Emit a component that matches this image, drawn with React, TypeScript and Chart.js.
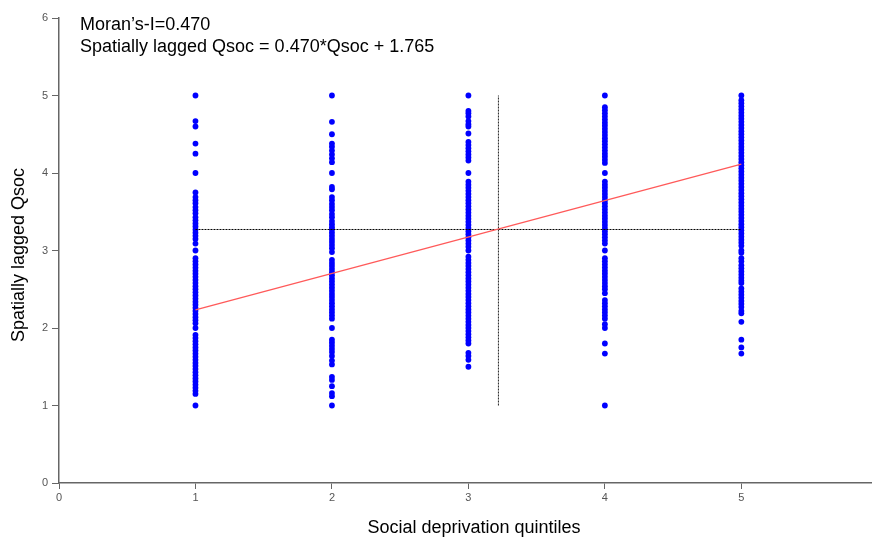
import React, { useEffect, useRef } from "react";
import { Chart, registerables } from "chart.js";

Chart.register(...registerables);

const quintiles = [1, 2, 3, 4, 5];

const q1 = [5.0, 4.67, 4.6, 4.38, 4.25, 4.0, 3.75, 3.69, 3.65, 3.61, 3.56, 3.52, 3.48, 3.43, 3.39, 3.35, 3.31, 3.27, 3.23, 3.19, 3.15, 3.09, 3.0, 2.9, 2.86, 2.82, 2.78, 2.74, 2.7, 2.66, 2.62, 2.58, 2.54, 2.5, 2.46, 2.42, 2.38, 2.34, 2.3, 2.26, 2.22, 2.18, 2.14, 2.1, 2.06, 2.0, 1.91, 1.87, 1.83, 1.79, 1.75, 1.71, 1.67, 1.63, 1.59, 1.55, 1.51, 1.47, 1.43, 1.39, 1.35, 1.31, 1.27, 1.23, 1.19, 1.15, 1.0];
const q2 = [5.0, 4.66, 4.5, 4.38, 4.34, 4.29, 4.24, 4.19, 4.14, 4.0, 3.82, 3.79, 3.69, 3.65, 3.6, 3.56, 3.52, 3.47, 3.43, 3.38, 3.34, 3.3, 3.27, 3.23, 3.19, 3.15, 3.11, 3.07, 3.03, 2.98, 2.88, 2.84, 2.8, 2.76, 2.72, 2.68, 2.64, 2.6, 2.56, 2.52, 2.48, 2.44, 2.4, 2.36, 2.32, 2.28, 2.24, 2.2, 2.16, 2.12, 2.0, 1.85, 1.81, 1.77, 1.73, 1.69, 1.64, 1.58, 1.53, 1.37, 1.33, 1.25, 1.16, 1.12, 1.0];
const q3 = [5.0, 4.8, 4.77, 4.73, 4.67, 4.63, 4.6, 4.51, 4.4, 4.36, 4.32, 4.28, 4.24, 4.2, 4.16, 4.0, 3.89, 3.85, 3.81, 3.77, 3.73, 3.69, 3.65, 3.61, 3.57, 3.53, 3.49, 3.45, 3.41, 3.37, 3.33, 3.29, 3.25, 3.21, 3.17, 3.13, 3.09, 3.05, 3.0, 2.92, 2.88, 2.84, 2.8, 2.76, 2.72, 2.68, 2.64, 2.6, 2.56, 2.52, 2.48, 2.44, 2.4, 2.36, 2.32, 2.28, 2.24, 2.2, 2.16, 2.12, 2.08, 2.04, 2.0, 1.96, 1.92, 1.88, 1.84, 1.8, 1.68, 1.64, 1.59, 1.5];
const q4 = [5.0, 4.85, 4.81, 4.77, 4.73, 4.69, 4.65, 4.61, 4.57, 4.53, 4.49, 4.45, 4.41, 4.37, 4.33, 4.29, 4.25, 4.21, 4.17, 4.13, 4.0, 3.89, 3.85, 3.81, 3.77, 3.73, 3.69, 3.65, 3.61, 3.57, 3.53, 3.49, 3.45, 3.41, 3.37, 3.33, 3.29, 3.25, 3.21, 3.17, 3.13, 3.09, 3.0, 2.9, 2.86, 2.82, 2.78, 2.74, 2.7, 2.66, 2.62, 2.58, 2.54, 2.5, 2.45, 2.36, 2.32, 2.28, 2.24, 2.2, 2.16, 2.12, 2.05, 2.0, 1.8, 1.67, 1.0];
const q5 = [5.0, 4.94, 4.9, 4.86, 4.82, 4.78, 4.74, 4.7, 4.66, 4.62, 4.58, 4.54, 4.5, 4.46, 4.42, 4.38, 4.34, 4.3, 4.26, 4.22, 4.18, 4.14, 4.1, 4.06, 4.02, 3.98, 3.94, 3.9, 3.86, 3.82, 3.78, 3.74, 3.7, 3.66, 3.62, 3.58, 3.54, 3.5, 3.46, 3.42, 3.38, 3.34, 3.3, 3.26, 3.22, 3.18, 3.14, 3.1, 3.06, 3.0, 2.97, 2.9, 2.86, 2.81, 2.77, 2.73, 2.69, 2.65, 2.61, 2.58, 2.51, 2.47, 2.43, 2.39, 2.35, 2.31, 2.27, 2.22, 2.19, 2.08, 1.85, 1.75, 1.67];
const seriesValues = [q1, q2, q3, q4, q5];

const slope = 0.47;
const intercept = 1.765;
const fitXs = [1, 5];
const meanX = 3.22;
const meanY = 3.271;
const meanSpanX = [1, 5];
const meanSpanY = [1, 5];

const yTicks = [0, 1, 2, 3, 4, 5, 6];
const xTicks = [0, 1, 2, 3, 4, 5];

const FONT = '"Liberation Sans", Arial, sans-serif';

const textPlugin = {
  id: "texts",
  afterDraw(chart: any) {
    const ctx = chart.ctx;
    ctx.save();
    ctx.fillStyle = "#000";
    ctx.font = "18px " + FONT;
    ctx.textAlign = "left";
    ctx.textBaseline = "alphabetic";
    ctx.fillText("Moran\u2019s-I=0.470", 80, 30);
    ctx.fillText("Spatially lagged Qsoc = 0.470*Qsoc + 1.765", 80, 52);
    ctx.textAlign = "center";
    ctx.fillText("Social deprivation quintiles", 474, 533);
    ctx.translate(24, 255);
    ctx.rotate(-Math.PI / 2);
    ctx.fillText("Spatially lagged Qsoc", 0, 0);
    ctx.restore();
  },
};

export default function App() {
  const ref = useRef<HTMLCanvasElement | null>(null);
  useEffect(() => {
    document.body.style.margin = "0";
    const points: { x: number; y: number }[] = [];
    quintiles.forEach((q, i) => {
      seriesValues[i].forEach((v) => points.push({ x: q, y: v }));
    });
    const fit = fitXs.map((x) => ({ x, y: slope * x + intercept }));
    const hLine = meanSpanX.map((x) => ({ x, y: meanY }));
    const vLine = meanSpanY.map((y) => ({ x: meanX, y }));
    const chart = new Chart(ref.current as HTMLCanvasElement, {
      type: "scatter",
      data: {
        datasets: [
          {
            data: fit,
            showLine: true,
            borderColor: "#ff5a5a",
            borderWidth: 1.3,
            pointRadius: 0,
            order: 0,
          } as any,
          {
            data: hLine,
            showLine: true,
            borderColor: "#000",
            borderWidth: 1,
            borderDash: [2, 1],
            pointRadius: 0,
            order: 1,
          },
          {
            data: vLine,
            showLine: true,
            borderColor: "#222",
            borderWidth: 1,
            borderDash: [2, 1],
            pointRadius: 0,
            order: 1,
          },
          {
            data: points,
            backgroundColor: "#0000ff",
            borderWidth: 0,
            pointRadius: 2.9,
            order: 2,
          },
        ],
      },
      options: {
        responsive: false,
        animation: false,
        devicePixelRatio: 1,
        layout: { padding: { top: 18, right: 0, left: 0, bottom: 0 } },
        plugins: { legend: { display: false }, tooltip: { enabled: false } },
        scales: {
          x: {
            type: "linear",
            min: 0,
            max: 5.95,
            afterFit: (s: any) => { s.height = 54; },
            afterBuildTicks: (s: any) => { s.ticks = xTicks.map((v) => ({ value: v })); },
            grid: { drawOnChartArea: false, drawTicks: true, tickLength: 6, color: "#666" },
            border: { display: true, color: "#666", width: 1.5 },
            ticks: { color: "#555", font: { size: 11, family: FONT }, padding: 2 },
          },
          y: {
            type: "linear",
            min: 0,
            max: 6,
            afterFit: (s: any) => { s.width = 59; },
            afterBuildTicks: (s: any) => { s.ticks = yTicks.map((v) => ({ value: v })); },
            grid: { drawOnChartArea: false, drawTicks: true, tickLength: 7, color: "#666" },
            border: { display: true, color: "#666", width: 1.5 },
            ticks: { color: "#555", font: { size: 11, family: FONT }, padding: 4 },
          },
        },
      },
      plugins: [textPlugin],
    });
    return () => chart.destroy();
  }, []);
  return (
    <div style={{ position: "absolute", left: 0, top: 0, width: 875, height: 537 }}>
      <canvas ref={ref} width={875} height={537} />
    </div>
  );
}
